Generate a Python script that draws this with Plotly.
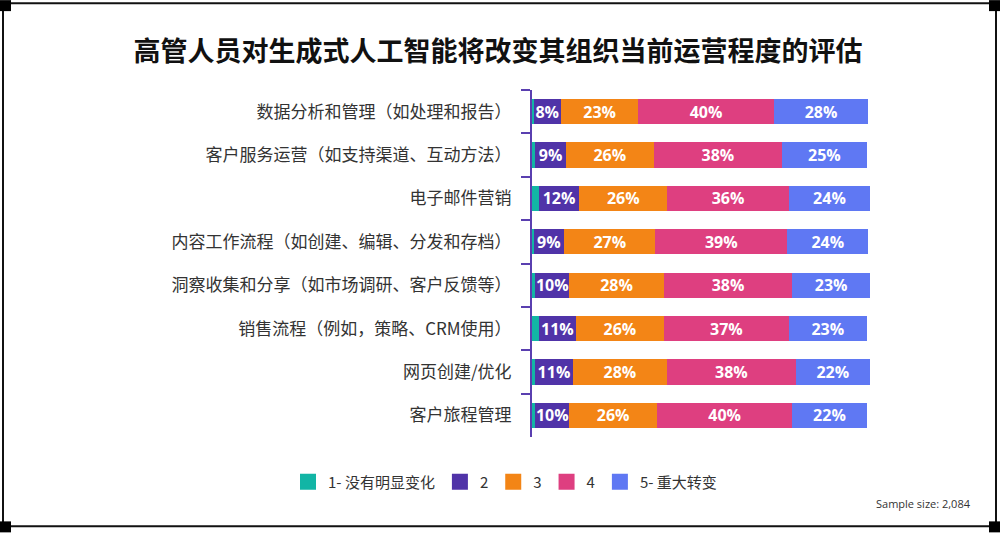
import plotly.graph_objects as go

categories = [
    "数据分析和管理（如处理和报告）",
    "客户服务运营（如支持渠道、互动方法）",
    "电子邮件营销",
    "内容工作流程（如创建、编辑、分发和存档）",
    "洞察收集和分享（如市场调研、客户反馈等）",
    "销售流程（例如，策略、CRM使用）",
    "网页创建/优化",
    "客户旅程管理",
]
series_names = ["1- 没有明显变化", "2", "3", "4", "5- 重大转变"]
s1 = [0.5, 1, 2, 0.5, 1, 2, 1, 1]
s2 = [8, 9, 12, 9, 10, 11, 11, 10]
s3 = [23, 26, 26, 27, 28, 26, 28, 26]
s4 = [40, 38, 36, 39, 38, 37, 38, 40]
s5 = [28, 25, 24, 24, 23, 23, 22, 22]
series_values = [s1, s2, s3, s4, s5]
colors = ["#12b5a5", "#5033a8", "#f38516", "#de3f80", "#5f78f3"]
show_labels = [False, True, True, True, True]
title_text = "高管人员对生成式人工智能将改变其组织当前运营程度的评估"
note_text = "Sample size: 2,084"

W, H = 1000, 534
L, R = 532, 870
T, B = 90, 437.5


def px(x):
    return (x - L) / (R - L)


def py(y):
    return (B - y) / (B - T)


fig = go.Figure()
for name, vals, col, lab in zip(series_names, series_values, colors, show_labels):
    fig.add_trace(go.Bar(
        y=categories, x=vals, orientation="h", name=name,
        marker=dict(color=col, line=dict(width=0)),
        text=[f"{round(v)}%" for v in vals] if lab else None,
        textposition="inside" if lab else "none",
        insidetextanchor="middle",
        textangle=0,
        constraintext="none",
        textfont=dict(family="Open Sans", size=16, color="white", weight="bold"),
        showlegend=False,
        hoverinfo="skip",
    ))
    fig.add_trace(go.Scatter(
        x=[None], y=[None], mode="markers", name=name,
        marker=dict(symbol="square", size=20, color=col),
        showlegend=True,
    ))

shapes = []
lc = "#111111"
shapes.append(dict(type="line", xref="paper", yref="paper", x0=px(3), x1=px(996), y0=py(3), y1=py(3), line=dict(color=lc, width=2)))
shapes.append(dict(type="line", xref="paper", yref="paper", x0=px(3), x1=px(996), y0=py(527), y1=py(527), line=dict(color=lc, width=2)))
shapes.append(dict(type="line", xref="paper", yref="paper", x0=px(3), x1=px(3), y0=py(3), y1=py(527), line=dict(color=lc, width=2)))
shapes.append(dict(type="line", xref="paper", yref="paper", x0=px(996), x1=px(996), y0=py(3), y1=py(527), line=dict(color=lc, width=2)))
for (cx, cy) in [(0, 0), (989, 0), (0, 522), (989, 522)]:
    shapes.append(dict(type="rect", xref="paper", yref="paper", x0=px(cx), x1=px(cx + 11), y0=py(cy), y1=py(cy + 11),
                       fillcolor="#000000", line=dict(width=0)))

fig.update_layout(
    width=W, height=H,
    margin=dict(l=L, r=W - R, t=T, b=H - B, pad=0),
    barmode="stack",
    bargap=0.42,
    plot_bgcolor="white",
    paper_bgcolor="white",
    font=dict(family="Noto Sans CJK SC", color="#333333"),
    title=dict(text=title_text, x=0.498, xref="container", xanchor="center", y=1 - 52 / H, yref="container",
               yanchor="middle",
               font=dict(family="Noto Sans CJK SC", size=27, color="#111111", weight="bold")),
    xaxis=dict(range=[0, 100], visible=False, fixedrange=True),
    yaxis=dict(autorange="reversed", showline=True, linecolor="#5a3fb0", linewidth=2,
               ticks="outside", tickson="boundaries", ticklen=9, tickcolor="#5a3fb0", tickwidth=2,
               ticklabelstandoff=15,
               tickfont=dict(family="Noto Sans CJK SC", size=17, color="#333333"),
               showgrid=False, zeroline=False),
    legend=dict(orientation="h", x=px(505), xanchor="center", y=py(466), yanchor="top",
                font=dict(family="Noto Sans CJK SC", size=15, color="#333333"),
                itemsizing="trace", itemwidth=30, traceorder="normal"),
    shapes=shapes,
    annotations=[dict(text=note_text, xref="paper", yref="paper", x=px(973), y=py(504), xanchor="right",
                      yanchor="middle", showarrow=False,
                      font=dict(family="Open Sans", size=11, color="#333333"))],
)

fig.write_html("out.html", config={"displayModeBar": False},
               post_script="document.body.style.margin='0';")
